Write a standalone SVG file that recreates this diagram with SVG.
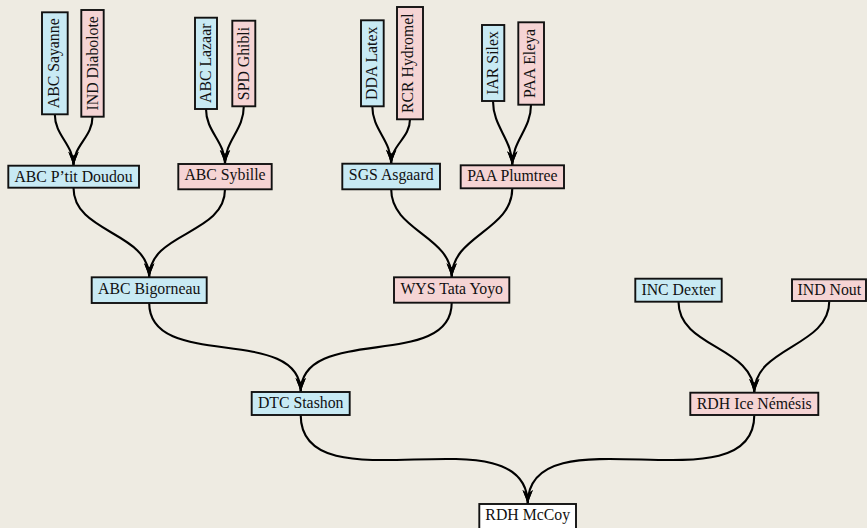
<svg xmlns="http://www.w3.org/2000/svg" width="867" height="528" viewBox="0 0 867 528">
<style>
.bg{fill:#eeebe2}
.n rect{stroke:#111;stroke-width:1.9}
.b rect{fill:#c8eaf4}
.p rect{fill:#f5d4d4}
.w rect{fill:#ffffff}
text{font-family:"Liberation Serif","Times New Roman",serif;font-size:15.8px;fill:#111;text-anchor:middle}
.c path{fill:none;stroke:#000;stroke-width:2.1;marker-end:url(#ah)}
</style>
<defs>
<marker id="ah" markerUnits="userSpaceOnUse" orient="auto" viewBox="-15 -6 16 12" refX="0" refY="0" markerWidth="16" markerHeight="12" overflow="visible">
<path d="M0,0 Q-6,-1.8 -14,-5.2 L-10,0 L-14,5.2 Q-6,1.8 0,0 Z" fill="#000"/>
</marker>
</defs>
<rect class="bg" x="0" y="0" width="867" height="528"/>
<g class="c" id="connectors">
<path d="M54.8,114.3 C54.8,135.7 73.5,144.3 73.5,165.7"/>
<path d="M92.5,116.7 C92.5,137.3 73.5,145.1 73.5,165.7"/>
<path d="M206,109 C206,131.8 225,141.2 225,164"/>
<path d="M243.8,106.3 C243.8,130.1 225,140.2 225,164"/>
<path d="M372.3,106.3 C372.3,130 391.2,140 391.2,163.7"/>
<path d="M410,119.3 C410,138.2 391.2,144.8 391.2,163.7"/>
<path d="M493,101 C493,127.3 512.3,139 512.3,165.3"/>
<path d="M531,104.7 C531,129.5 512.3,140.5 512.3,165.3"/>
<path d="M73.5,187.7 C73.5,233.6 149.2,231.4 149.2,277.3"/>
<path d="M225,189.3 C225,234.8 149.2,231.8 149.2,277.3"/>
<path d="M391.2,189.3 C391.2,231.1 451.7,235.5 451.7,277.3"/>
<path d="M512.3,188.3 C512.3,230.5 451.7,235.1 451.7,277.3"/>
<path d="M149.2,303 C149.2,371.8 300.7,323.2 300.7,392"/>
<path d="M451.7,302.7 C451.7,371.4 300.7,323.3 300.7,392"/>
<path d="M678.5,301.7 C678.5,348.1 754.3,346.3 754.3,392.7"/>
<path d="M829.3,301 C829.3,347.4 754.3,346.3 754.3,392.7"/>
<path d="M300.7,415 C300.7,510.5 527.7,408.5 527.7,504"/>
<path d="M754.3,415 C754.3,510.3 527.7,408.7 527.7,504"/>
</g>
<g id="abc-sayanne" class="n b"><rect x="42" y="12.3" width="25.7" height="102"/><text transform="translate(58.5,63.3) rotate(-90)">ABC Sayanne</text></g>
<g id="ind-diabolote" class="n p"><rect x="81.3" y="10" width="22.4" height="106.7"/><text transform="translate(97.5,63.3) rotate(-90)">IND Diabolote</text></g>
<g id="abc-lazaar" class="n b"><rect x="195" y="17.7" width="22" height="91.3"/><text transform="translate(211.2,63.3) rotate(-90)">ABC Lazaar</text></g>
<g id="spd-ghibli" class="n p"><rect x="232.3" y="20.7" width="23" height="85.6"/><text transform="translate(248.5,63.5) rotate(-90)">SPD Ghibli</text></g>
<g id="dda-latex" class="n b"><rect x="361" y="20.3" width="22.7" height="86"/><text transform="translate(377.3,63.3) rotate(-90)">DDA Latex</text></g>
<g id="rcr-hydromel" class="n p"><rect x="397" y="7" width="26" height="112.3"/><text transform="translate(413.2,63.2) rotate(-90)">RCR Hydromel</text></g>
<g id="iar-silex" class="n b"><rect x="482" y="25" width="22.3" height="76"/><text transform="translate(498.3,63) rotate(-90)">IAR Silex</text></g>
<g id="paa-eleya" class="n p"><rect x="518.3" y="22.3" width="25.7" height="82.4"/><text transform="translate(534.5,63.5) rotate(-90)">PAA Eleya</text></g>
<g id="abc-ptit-doudou" class="n b"><rect x="8.3" y="165.7" width="130.7" height="22"/><text x="73.5" y="181.7">ABC P’tit Doudou</text></g>
<g id="abc-sybille" class="n p"><rect x="178.3" y="164" width="93.4" height="25.3"/><text x="225" y="180">ABC Sybille</text></g>
<g id="sgs-asgaard" class="n b"><rect x="342.3" y="163.7" width="97.7" height="25.6"/><text x="391.2" y="179.7">SGS Asgaard</text></g>
<g id="paa-plumtree" class="n p"><rect x="460.7" y="165.3" width="103.3" height="23"/><text x="512.3" y="181.3">PAA Plumtree</text></g>
<g id="abc-bigorneau" class="n b"><rect x="91.7" y="277.3" width="115" height="25.7"/><text x="149.2" y="293.6">ABC Bigorneau</text></g>
<g id="wys-tata-yoyo" class="n p"><rect x="394" y="277.3" width="115.3" height="25.4"/><text x="451.7" y="293.6">WYS Tata Yoyo</text></g>
<g id="inc-dexter" class="n b"><rect x="635.3" y="278.7" width="86.4" height="23"/><text x="678.5" y="294.9">INC Dexter</text></g>
<g id="ind-nout" class="n p"><rect x="792" y="279.3" width="74" height="21.7"/><text x="829.3" y="295.3">IND Nout</text></g>
<g id="dtc-stashon" class="n b"><rect x="251.7" y="392" width="98" height="23"/><text x="300.7" y="408.4">DTC Stashon</text></g>
<g id="rdh-ice-nemesis" class="n p"><rect x="690.3" y="392.7" width="128" height="22.3"/><text x="754.3" y="408.8">RDH Ice Némésis</text></g>
<g id="rdh-mccoy" class="n w"><rect x="479.3" y="504" width="96.7" height="26"/><text x="527.7" y="520.2">RDH McCoy</text></g>
</svg>
